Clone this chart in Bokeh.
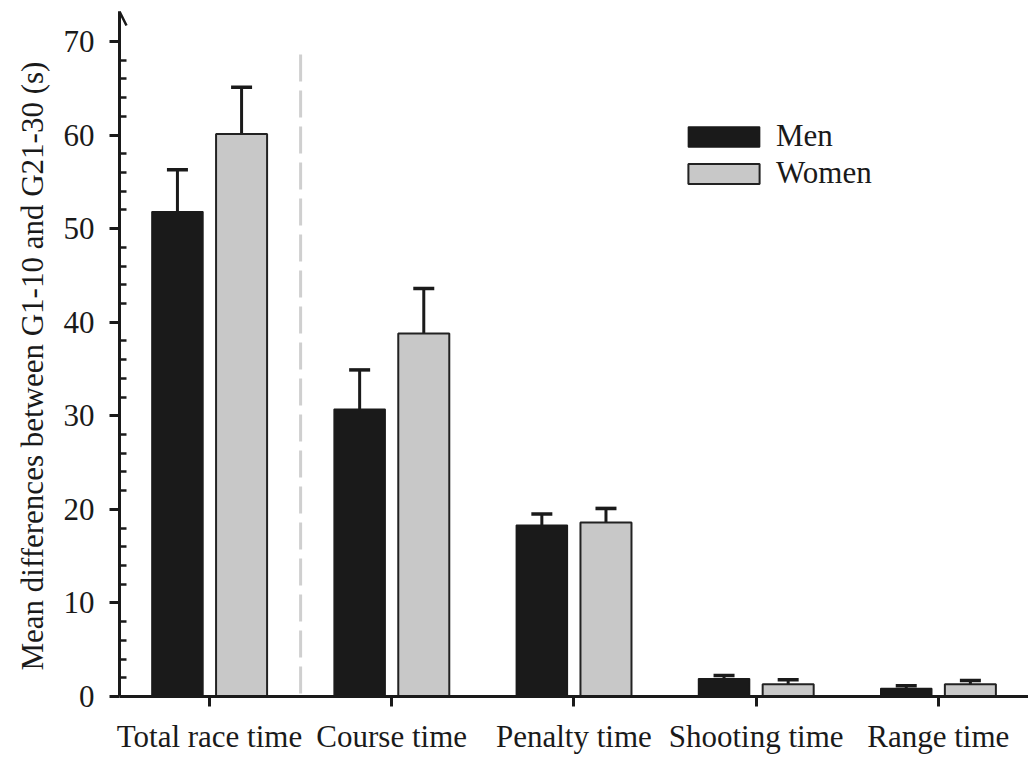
import numpy as np
from bokeh.plotting import figure
from bokeh.models import (Range1d, FixedTicker, ColumnDataSource, Whisker, TeeHead,
                          Arrow, OpenHead, Legend, LegendItem, Title)
from bokeh.embed import file_html
from bokeh.resources import INLINE

# ---- data ----
categories = ["Total race time", "Course time", "Penalty time", "Shooting time", "Range time"]
men = [51.8, 30.7, 18.3, 1.9, 0.85]
women = [60.1, 38.8, 18.6, 1.3, 1.3]
men_err = [4.5, 4.2, 1.2, 0.35, 0.3]
women_err = [5.0, 4.8, 1.5, 0.5, 0.4]
y_ticks = [0, 10, 20, 30, 40, 50, 60, 70]
y_label = "Mean differences between G1-10 and G21-30 (s)"

FONT = "Liberation Serif"
FS = "31px"
INK = "#1a1a1a"

idx = np.arange(len(categories))
offset = 0.176
bar_w = 0.28
x_start, x_end = -0.494, 4.495

p = figure(width=1028, height=756, output_backend="svg", toolbar_location=None,
           x_range=Range1d(x_start, x_end), y_range=Range1d(0, 73.2),
           min_border_left=119, min_border_right=0, min_border_top=11, min_border_bottom=59)
p.outline_line_color = None
p.grid.visible = False
p.background_fill_color = "white"
p.border_fill_color = "white"

men_src = ColumnDataSource(dict(x=idx - offset, top=men,
                                upper=np.array(men) + np.array(men_err)))
women_src = ColumnDataSource(dict(x=idx + offset, top=women,
                                  upper=np.array(women) + np.array(women_err)))

# separator between total and components
sep_x = 0.5
sep_top = 68.6
p.line(x=[sep_x, sep_x], y=[sep_top, 0], line_color="#cfcfcf", line_width=3, line_dash="27 9")

r_men = p.vbar(x="x", top="top", bottom=0, width=bar_w, source=men_src,
               fill_color=INK, line_color=INK, line_width=1.5)
r_women = p.vbar(x="x", top="top", bottom=0, width=bar_w, source=women_src,
                 fill_color="#c8c8c8", line_color="#222222", line_width=2)

for src in (men_src, women_src):
    p.add_layout(Whisker(source=src, base="x", upper="upper", lower="top",
                         upper_head=TeeHead(size=21, line_width=3.5, line_color=INK),
                         lower_head=None, line_width=3, line_color=INK))

# y axis
ya = p.yaxis[0]
ya.ticker = FixedTicker(ticks=y_ticks, minor_ticks=[v for v in range(2, 70, 2) if v % 10])
ya.major_tick_in = 0
ya.major_tick_out = 10
ya.minor_tick_in = 7
ya.minor_tick_out = 0
ya.axis_line_width = 3
ya.axis_line_color = INK
ya.major_tick_line_width = 3
ya.major_tick_line_color = INK
ya.minor_tick_line_width = 2.5
ya.minor_tick_line_color = INK
ya.major_label_standoff = 15
ya.major_label_text_font = FONT
ya.major_label_text_font_size = FS
ya.major_label_text_color = INK

# y axis title, slightly below the frame centre as in the original
p.add_layout(Title(text=y_label, align="left", offset=26, standoff=18,
                   vertical_align="top",
                   text_font=FONT, text_font_size=FS, text_font_style="normal",
                   text_color=INK), "left")

# x axis
xa = p.xaxis[0]
xa.ticker = FixedTicker(ticks=list(idx), minor_ticks=[])
xa.major_label_overrides = {int(i): c for i, c in zip(idx, categories)}
xa.major_tick_in = 0
xa.major_tick_out = 10
xa.axis_line_width = 3
xa.axis_line_color = INK
xa.major_tick_line_width = 3
xa.major_tick_line_color = INK
xa.major_label_standoff = 12
xa.major_label_text_font = FONT
xa.major_label_text_font_size = FS
xa.major_label_text_color = INK

# arrow head on y axis
p.add_layout(Arrow(end=OpenHead(size=14, line_width=2.5, line_color=INK),
                   x_start=x_start, y_start=70, x_end=x_start, y_end=73.2,
                   line_width=3, line_color=INK))

legend = Legend(items=[LegendItem(label="Men", renderers=[r_men]),
                       LegendItem(label="Women", renderers=[r_women])],
                location=(560, 505), glyph_width=89, glyph_height=25,
                label_standoff=8, spacing=1, padding=0, margin=0,
                border_line_color=None, background_fill_alpha=0,
                label_text_font=FONT, label_text_font_size=FS,
                label_text_color=INK)
p.add_layout(legend)

open("out.html", "w").write(file_html(p, INLINE))
